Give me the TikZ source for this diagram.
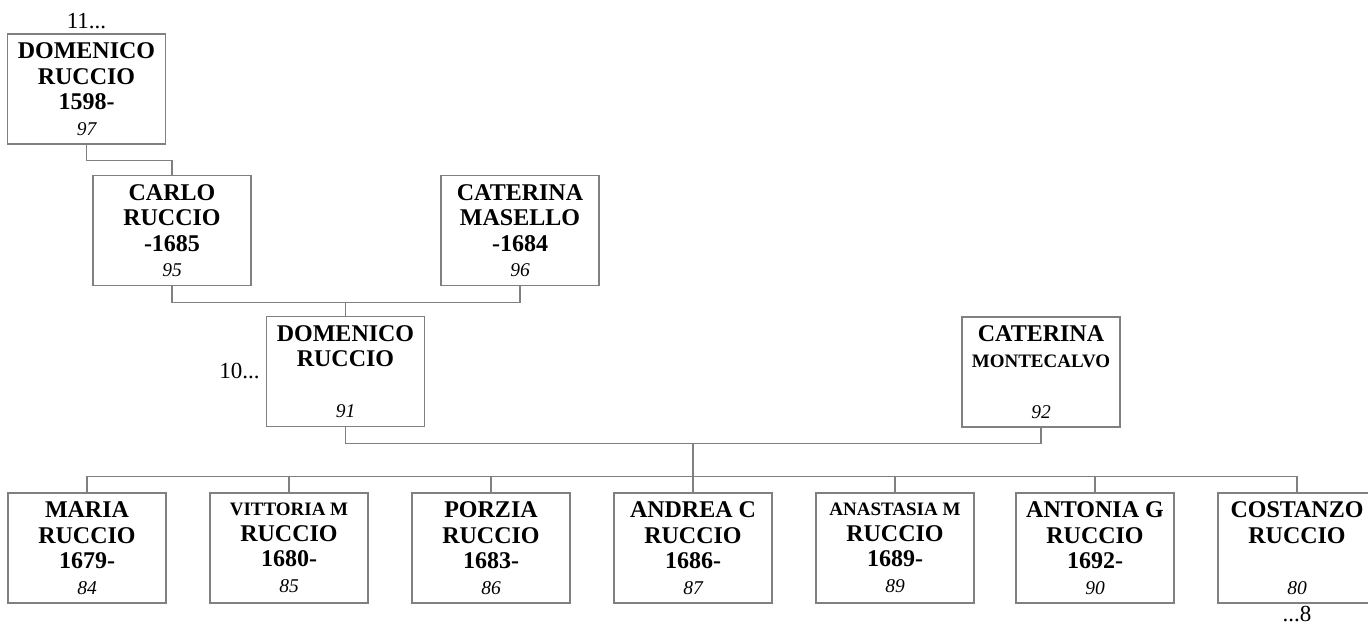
\documentclass[tikz,border=0pt]{standalone}
\usepackage{fontspec}
\setmainfont{Liberation Serif}
\usetikzlibrary{positioning}

\newcommand{\smallname}[1]{{\fontsize{19}{25}\selectfont #1}}
\newcommand{\num}[1]{{\fontsize{19.5}{25}\selectfont\itshape\mdseries #1}}

\begin{document}
\begin{tikzpicture}
            [x=1pt, y=-1pt,
             person/.style={draw=black!50, line width=1.2pt, rectangle, minimum width=158pt,
                            minimum height=110pt, inner sep=0pt, align=center,
                            font=\fontsize{24}{25.5}\selectfont\bfseries},
             link/.style={draw=black!50, line width=1.2pt},
             note/.style={inner sep=0pt, font=\fontsize{23}{25}\selectfont}]

            \useasboundingbox (0,0) rectangle (1368,626);

            % grandparents
            \node[person] (domA) at (86.5,89) {DOMENICO\\RUCCIO\\1598-\\\num{97}};
            \node[person] (carlo) at (172,230.5) {CARLO\\RUCCIO\\-1685\\\num{95}};
            \node[person] (masello) at (520,230.5) {CATERINA\\MASELLO\\-1684\\\num{96}};

            % parents
            \node[person] (domB) at (345.5,371.5) {DOMENICO\\RUCCIO\\\mbox{}\\\num{91}};
            \node[person] (monte) at (1041,372) {CATERINA\\\smallname{MONTECALVO}\\\mbox{}\\\num{92}};

            % children
            \node[person] (maria) at (87,548) {MARIA\\RUCCIO\\1679-\\\num{84}};
            \node[person] (vittoria) at (289,548) {\smallname{VITTORIA M}\\RUCCIO\\1680-\\\num{85}};
            \node[person] (porzia) at (491,548) {PORZIA\\RUCCIO\\1683-\\\num{86}};
            \node[person] (andrea) at (693,548) {ANDREA C\\RUCCIO\\1686-\\\num{87}};
            \node[person] (anastasia) at (895,548) {\smallname{ANASTASIA M}\\RUCCIO\\1689-\\\num{89}};
            \node[person] (antonia) at (1095,548) {ANTONIA G\\RUCCIO\\1692-\\\num{90}};
            \node[person] (costanzo) at (1297,548) {COSTANZO\\RUCCIO\\\mbox{}\\\num{80}};

            % generation marks
            \node[note, above=4pt of domA] (genA) {11...};
            \node[note, left=6pt of domB] (genB) {10...};
            \node[note, below=2pt of costanzo] (genC) {...8};

            % lines
            \draw[link] (domA.south) -- ++(0,16) -| (carlo.north);
            \draw[link] (carlo.south) -- ++(0,16) coordinate (j1) -| (masello.south);
            \draw[link] (domB.north) -- (domB.north |- j1);
            \draw[link] (domB.south) -- ++(0,16) coordinate (j2) -| (monte.south);
            \draw[link] (maria.north) -- ++(0,-16) coordinate (j3) -| (costanzo.north);
            \draw[link] (andrea.north) -- (andrea.north |- j2);
            \foreach \kid in {vittoria, porzia, anastasia, antonia}
                \draw[link] (\kid.north) -- (\kid.north |- j3);
        \end{tikzpicture}
\end{document}
